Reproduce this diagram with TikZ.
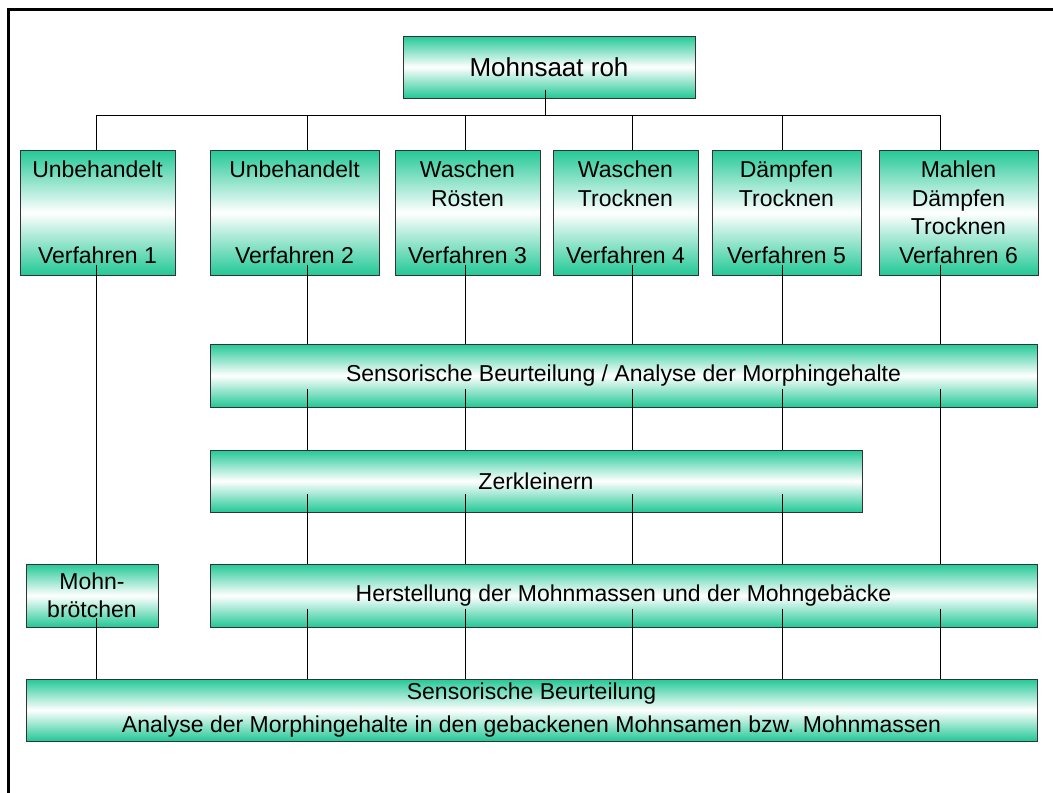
\documentclass[tikz,border=0pt]{standalone}
\usepackage{fontspec}
\setmainfont{Liberation Sans}

\definecolor{mohngreen}{RGB}{35,200,150}

\tikzset{
	stufe/.style={draw=black!80, line width=1pt, top color=mohngreen, bottom color=mohngreen, middle color=white,
		font=\fontsize{23}{28.5}\selectfont, align=center, inner sep=0pt},
	linie/.style={line width=1pt}
}

\begin{document}
\begin{tikzpicture}[x=1pt,y=-1pt]

	\useasboundingbox (0,0) rectangle (1053,793);
	\draw[line width=3pt] (8,793) -- (8,9) -- (1053,9);

	% Ausgangsmaterial
	\node[stufe, minimum width=292pt, minimum height=62pt, font=\fontsize{26}{30}\selectfont] (roh) at (549,67) {Mohnsaat roh};

	% Verfahren 1-6
	\node[stufe, minimum width=155pt, minimum height=125pt] (v1) at (97.5,212.5) {Unbehandelt\\\mbox{}\\\mbox{}\\Verfahren 1};
	\node[stufe, minimum width=169pt, minimum height=125pt] (v2) at (294.5,212.5) {Unbehandelt\\\mbox{}\\\mbox{}\\Verfahren 2};
	\node[stufe, minimum width=145pt, minimum height=125pt] (v3) at (467.5,212.5) {Waschen\\Rösten\\\mbox{}\\Verfahren 3};
	\node[stufe, minimum width=145pt, minimum height=125pt] (v4) at (625.5,212.5) {Waschen\\Trocknen\\\mbox{}\\Verfahren 4};
	\node[stufe, minimum width=149pt, minimum height=125pt] (v5) at (786.5,212.5) {Dämpfen\\Trocknen\\\mbox{}\\Verfahren 5};
	\node[stufe, minimum width=159pt, minimum height=125pt] (v6) at (958.5,212.5) {Mahlen\\Dämpfen\\Trocknen\\Verfahren 6};

	% Weiterverarbeitung
	\node[stufe, minimum width=827pt, minimum height=63pt] (sens) at (623.5,375.5) {Sensorische Beurteilung / Analyse der Morphingehalte};
	\node[stufe, minimum width=652pt, minimum height=62pt] (zerk) at (536,481) {Zerkleinern};
	\node[stufe, minimum width=827pt, minimum height=63pt] (herst) at (623.5,595.5) {Herstellung der Mohnmassen und der Mohngebäcke};
	\node[stufe, minimum width=132pt, minimum height=63pt, font=\fontsize{23}{28}\selectfont] (brot) at (92,595.5) {Mohn-\\brötchen};
	\node[stufe, minimum width=1011pt, minimum height=62pt, font=\fontsize{23}{33}\selectfont] (ende) at (531.5,710)
		{Sensorische Beurteilung\\Analyse der Morphingehalte in den gebackenen Mohnsamen bzw. Mohnmassen};

	% Verbindungen
	\coordinate (mitte) at (545,115);
	\coordinate (k1) at (96,115);
	\coordinate (k2) at (307,115);
	\coordinate (k3) at (465,115);
	\coordinate (k4) at (632,115);
	\coordinate (k5) at (782,115);
	\coordinate (k6) at (940,115);

	\draw[linie] ([yshift=9pt]roh.south -| mitte) -- (mitte);
	\draw[linie] (k1) -- (k6);
	\foreach \n in {1,...,6}
		\draw[linie] (k\n) -- (k\n |- v\n.north);

	\draw[linie] ([yshift=11pt]v1.south -| k1) -- (k1 |- brot.north);
	\draw[linie] ([yshift=10pt]brot.south -| k1) -- (k1 |- ende.north);
	\foreach \n in {2,...,6}{
		\draw[linie] ([yshift=11pt]v\n.south -| k\n) -- (k\n |- sens.north);
		\draw[linie] ([yshift=19pt]herst.south -| k\n) -- (k\n |- ende.north);
	}
	\foreach \n in {2,...,5}{
		\draw[linie] ([yshift=19pt]sens.south -| k\n) -- (k\n |- zerk.north);
		\draw[linie] ([yshift=19pt]zerk.south -| k\n) -- (k\n |- herst.north);
	}
	\draw[linie] ([yshift=19pt]sens.south -| k6) -- (k6 |- herst.north);

\end{tikzpicture}
\end{document}
